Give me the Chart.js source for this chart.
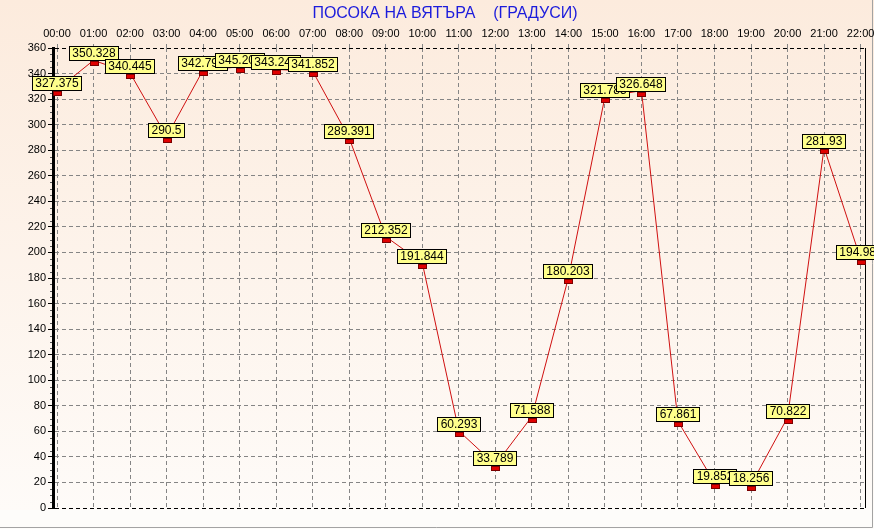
<!DOCTYPE html>
<html>
<head>
<meta charset="utf-8">
<script src="https://cdn.jsdelivr.net/npm/chart.js@4.4.1/dist/chart.umd.min.js"></script>
<style>
  html, body { margin: 0; padding: 0; background: #ffffff; }
  canvas { display: block; }
</style>
</head>
<body>
<canvas id="chart" width="874" height="529"></canvas>
<script>
// Hourly wind direction, degrees
const categories = ['00:00', '01:00', '02:00', '03:00', '04:00', '05:00', '06:00', '07:00',
  '08:00', '09:00', '10:00', '11:00', '12:00', '13:00', '14:00', '15:00', '16:00', '17:00',
  '18:00', '19:00', '20:00', '21:00', '22:00'];
const directions = [327.375, 350.328, 340.445, 290.5, 342.795, 345.205, 343.245, 341.852,
  289.391, 212.352, 191.844, 60.293, 33.789, 71.588, 180.203, 321.785, 326.648, 67.861,
  19.852, 18.256, 70.822, 281.93, 194.985];
const yTickValues = [0, 20, 40, 60, 80, 100, 120, 140, 160, 180, 200, 220, 240, 260, 280,
  300, 320, 340, 360];
const yMinorStep = 5;
const titleText = 'ПОСОКА НА ВЯТЪРА    (ГРАДУСИ)';

const FAMILY = '"Liberation Sans", Arial, sans-serif';
const GRID_GRAY = '#858585';

// Peach backdrop, outer frame and the title
const backdrop = {
  id: 'backdrop',
  beforeDraw(chart) {
    const { ctx, width, height } = chart;
    ctx.save();
    const g = ctx.createLinearGradient(0, 0, 0, 510);
    g.addColorStop(0, '#fcebdd');
    g.addColorStop(1, '#fefbf8');
    ctx.fillStyle = g;
    ctx.fillRect(0, 0, width, 510);
    ctx.fillStyle = '#fdfcfa';
    ctx.fillRect(0, 510, width, height - 510);
    ctx.strokeStyle = '#a3a3a3';
    ctx.lineWidth = 1;
    ctx.beginPath();
    ctx.moveTo(0, 527.5);
    ctx.lineTo(872.5, 527.5);
    ctx.lineTo(872.5, 0);
    ctx.stroke();

    ctx.font = '16px ' + FAMILY;
    ctx.fillStyle = '#1c1cdc';
    ctx.textAlign = 'center';
    ctx.textBaseline = 'middle';
    ctx.fillText(titleText, 445, 14);
    ctx.restore();
  }
};

// Right frame line and the short minor ticks on the value axis
const frame = {
  id: 'frame',
  beforeDatasetsDraw(chart) {
    const { ctx, chartArea } = chart;
    const y = chart.scales.y;
    ctx.save();
    ctx.strokeStyle = '#000';
    ctx.lineWidth = 1;
    ctx.beginPath();
    const rx = Math.round(chartArea.right) + 0.5;
    ctx.moveTo(rx, chartArea.top);
    ctx.lineTo(rx, chartArea.bottom);
    ctx.stroke();
    ctx.strokeStyle = '#555';
    ctx.beginPath();
    for (let v = y.min; v <= y.max; v += yMinorStep) {
      if (v % 20 === 0) continue;
      const py = Math.round(y.getPixelForValue(v)) + 0.5;
      ctx.moveTo(chartArea.left - 3, py);
      ctx.lineTo(chartArea.left - 1, py);
    }
    ctx.stroke();
    ctx.restore();
  }
};

// Red markers and yellow value boxes, drawn in series order
const valueBoxes = {
  id: 'valueBoxes',
  afterDatasetsDraw(chart) {
    const { ctx } = chart;
    const meta = chart.getDatasetMeta(0);
    ctx.save();
    meta.data.forEach(pt => {
      const x = Math.round(pt.x), y = Math.round(pt.y);
      ctx.fillStyle = '#e00000';
      ctx.fillRect(x - 4, y + 1, 9, 5);
      ctx.strokeStyle = '#7a0000';
      ctx.lineWidth = 1;
      ctx.strokeRect(x - 3.5, y + 1.5, 8, 4);
    });
    ctx.font = '12px ' + FAMILY;
    ctx.textAlign = 'center';
    ctx.textBaseline = 'middle';
    meta.data.forEach((pt, i) => {
      const text = String(directions[i]);
      const w = Math.round(ctx.measureText(text).width) + 7;
      const h = 15;
      const x = Math.round(pt.x), yb = Math.round(pt.y) + 1;
      const left = x - Math.round(w / 2);
      ctx.fillStyle = '#ffff8c';
      ctx.fillRect(left, yb - h, w, h);
      ctx.strokeStyle = '#000';
      ctx.strokeRect(left + 0.5, yb - h + 0.5, w - 1, h - 1);
      ctx.fillStyle = '#000';
      ctx.fillText(text, left + w / 2, yb - h / 2 + 0.5);
    });
    ctx.restore();
  }
};

new Chart(document.getElementById('chart'), {
  type: 'line',
  data: {
    datasets: [{
      data: directions.map((v, i) => ({ x: i, y: v })),
      borderColor: '#d01010',
      borderWidth: 1,
      pointRadius: 0,
      tension: 0,
      fill: false
    }]
  },
  options: {
    responsive: false,
    animation: false,
    devicePixelRatio: 1,
    layout: { padding: { left: 0, right: 9, top: 0, bottom: 21 } },
    plugins: {
      legend: { display: false },
      tooltip: { enabled: false },
      title: { display: false }
    },
    scales: {
      x: {
        type: 'linear',
        position: 'top',
        min: -0.11,
        max: 22.12,
        afterBuildTicks: s => { s.ticks = categories.map((_, i) => ({ value: i })); },
        afterFit: s => { s.height = 48; s.paddingLeft = 0; s.paddingRight = 0; },
        ticks: {
          callback: v => categories[v],
          font: { family: FAMILY, size: 11 },
          color: '#000',
          padding: 3,
          maxRotation: 0,
          autoSkip: false
        },
        grid: { color: GRID_GRAY, tickColor: GRID_GRAY, tickLength: 4 },
        border: { display: false, dash: [4, 3] }
      },
      y: {
        min: 0,
        max: 360,
        afterBuildTicks: s => { s.ticks = yTickValues.map(v => ({ value: v })); },
        afterFit: s => { s.width = 53; s.paddingTop = 0; s.paddingBottom = 0; },
        ticks: {
          font: { family: FAMILY, size: 11 },
          color: '#000',
          padding: 2
        },
        grid: {
          color: c => (c.tick && (c.tick.value === 0 || c.tick.value === 360)) ? '#000' : GRID_GRAY,
          tickColor: '#000',
          tickLength: 5
        },
        border: { display: true, color: '#000', width: 3, dash: [4, 3] }
      }
    }
  },
  plugins: [backdrop, frame, valueBoxes]
});
</script>
</body>
</html>
